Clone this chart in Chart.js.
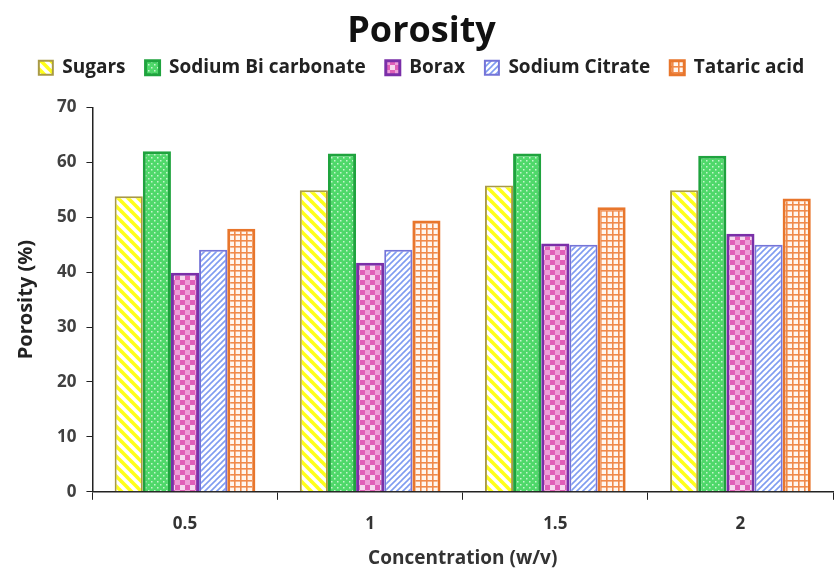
<!DOCTYPE html>
<html>
<head>
<meta charset="utf-8">
<script src="https://cdn.jsdelivr.net/npm/chart.js@4.4.1/dist/chart.umd.min.js"></script>
<style>
html,body{margin:0;padding:0;background:#fff;}
#wrap{width:840px;height:570px;position:relative;}
</style>
</head>
<body>
<div id="wrap"><canvas id="c" width="840" height="570"></canvas></div>
<script>
const categories = ['0.5', '1', '1.5', '2'];
const seriesNames = ['Sugars', 'Sodium Bi carbonate', 'Borax', 'Sodium Citrate', 'Tataric acid'];
const sugars = [53.8, 54.9, 55.8, 54.9];
const sodiumBicarbonate = [62.0, 61.6, 61.6, 61.2];
const borax = [39.9, 41.7, 45.2, 47.0];
const sodiumCitrate = [44.1, 44.1, 45.0, 45.0];
const tataricAcid = [47.9, 49.4, 51.8, 53.4];
const yTicks = [0, 10, 20, 30, 40, 50, 60, 70];

function mk(w, h, draw) {
  const c = document.createElement('canvas');
  c.width = w; c.height = h;
  const g = c.getContext('2d');
  draw(g, w, h);
  return g.createPattern(c, 'repeat');
}
// yellow wide "\" stripes
const pSugars = mk(10, 10, (g, w, h) => {
  g.fillStyle = '#ffffff'; g.fillRect(0, 0, w, h);
  g.strokeStyle = '#ffff1a'; g.lineWidth = 3.6;
  for (let k = -2; k <= 2; k++) {
    g.beginPath(); g.moveTo(k * 10 - 2, -2); g.lineTo(k * 10 + 12, 12); g.stroke();
  }
});
// green with white dots
const pGreen = mk(6, 6, (g, w, h) => {
  g.fillStyle = '#4fd86a'; g.fillRect(0, 0, w, h);
  g.fillStyle = '#c8f5cf';
  g.fillRect(1, 1, 1.5, 1.5); g.fillRect(4, 4, 1.5, 1.5);
});
// pink checker
const pBorax = mk(10, 10, (g, w, h) => {
  g.fillStyle = '#f7d8ef'; g.fillRect(0, 0, w, h);
  g.fillStyle = '#e060b8';
  g.fillRect(0, 0, 5, 5); g.fillRect(5, 5, 5, 5);
  g.fillStyle = '#ee9fd8';
  g.fillRect(5, 0, 5, 5);
});
// thin blue "/" stripes
const pCitrate = mk(6, 6, (g, w, h) => {
  g.fillStyle = '#ffffff'; g.fillRect(0, 0, w, h);
  g.strokeStyle = '#7f9cf0'; g.lineWidth = 1.6;
  for (let k = -1; k <= 1; k++) {
    g.beginPath(); g.moveTo(k * 6 - 1, 7); g.lineTo(k * 6 + 7, -1); g.stroke();
  }
});
// orange grid
const pTataric = mk(6, 6, (g, w, h) => {
  g.fillStyle = '#fff6ef'; g.fillRect(0, 0, w, h);
  g.fillStyle = '#f08a4b';
  g.fillRect(0, 0, 6, 1.6); g.fillRect(0, 0, 1.6, 6);
});

const fills = [pSugars, pGreen, pBorax, pCitrate, pTataric];
const borders = ['#a99a45', '#1fa33e', '#7a2fa8', '#7474d8', '#e8762c'];
const widths = [2, 3, 3, 2, 3];
const values = [sugars, sodiumBicarbonate, borax, sodiumCitrate, tataricAcid];

const datasets = seriesNames.map((n, i) => ({
  label: n,
  data: values[i],
  backgroundColor: fills[i],
  borderColor: borders[i],
  borderWidth: widths[i],
  borderSkipped: 'bottom'
}));

const FONT = '"Open Sans", Lato, sans-serif';
new Chart(document.getElementById('c'), {
  type: 'bar',
  data: { labels: categories, datasets },
  options: {
    responsive: false,
    animation: false,
    devicePixelRatio: 1,
    layout: { padding: { left: 10, right: 7, top: 10, bottom: 0 } },
    datasets: { bar: { categoryPercentage: 0.76, barPercentage: 1.0 } },
    plugins: {
      title: {
        display: true, text: 'Porosity', color: '#111',
        font: { family: FONT, size: 36, weight: 'bold' },
        padding: { top: 0, bottom: -15 }
      },
      legend: {
        display: true, position: 'top',
        labels: {
          color: '#222', boxWidth: 14, boxHeight: 14, padding: 20,
          font: { family: FONT, size: 19, weight: 'bold' }
        }
      },
      subtitle: {
        display: true, text: '', weight: 500,
        font: { size: 1 },
        padding: { top: 0, bottom: 19 }
      },
      tooltip: { enabled: false }
    },
    scales: {
      x: {
        offset: true,
        border: { color: '#222', width: 1.5 },
        grid: { display: true, drawOnChartArea: false, drawTicks: true, tickLength: 8, color: '#222', offset: true },
        ticks: { color: '#333', padding: 14, font: { family: FONT, size: 17, weight: 'bold' } },
        title: { display: true, text: 'Concentration (w/v)', color: '#333', font: { family: FONT, size: 19, weight: 'bold' }, padding: { top: -1, bottom: 0 } }
      },
      y: {
        min: 0, max: 70,
        afterBuildTicks: (ax) => { ax.ticks = yTicks.map(v => ({ value: v })); },
        border: { color: '#222', width: 1.5 },
        grid: { display: true, drawOnChartArea: false, drawTicks: true, tickLength: 6, color: '#222' },
        ticks: { color: '#404040', padding: 10, font: { family: FONT, size: 17, weight: 'bold' } },
        title: { display: true, text: 'Porosity (%)', color: '#222', font: { family: FONT, size: 20, weight: 'bold' }, padding: { bottom: 9 } }
      }
    }
  }
});
</script>
</body>
</html>
